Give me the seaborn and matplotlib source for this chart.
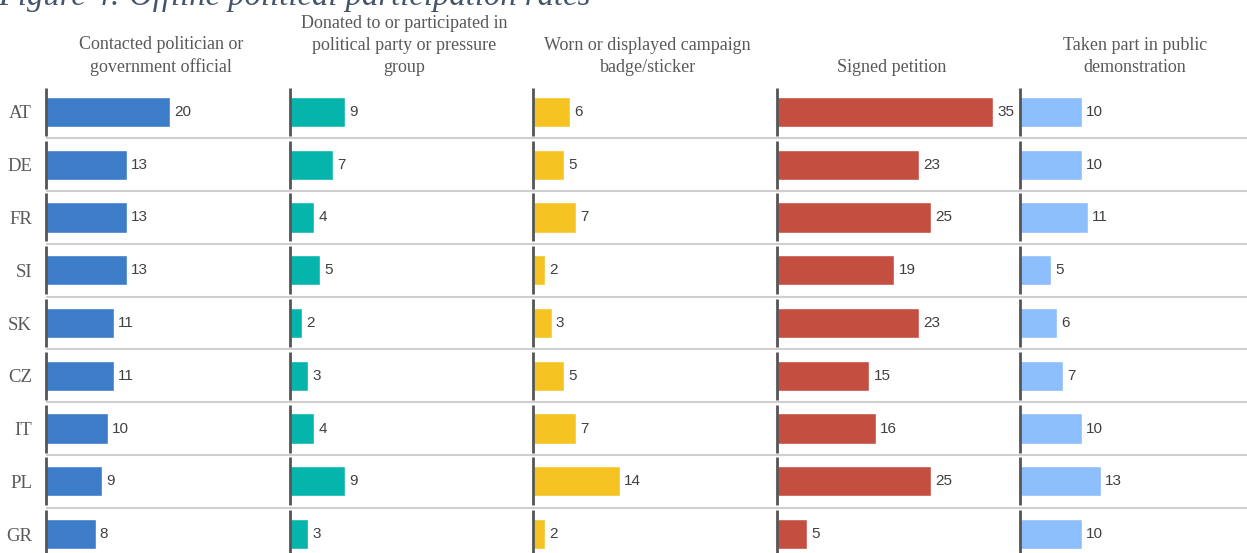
import matplotlib
matplotlib.use("Agg")
import matplotlib.pyplot as plt
import seaborn as sns
import pandas as pd

countries = ["AT", "DE", "FR", "SI", "SK", "CZ", "IT", "PL", "GR"]

activities = [
    "Contacted politician or\ngovernment official",
    "Donated to or participated in\npolitical party or pressure\ngroup",
    "Worn or displayed campaign\nbadge/sticker",
    "Signed petition",
    "Taken part in public\ndemonstration",
]

contacted = [20, 13, 13, 13, 11, 11, 10, 9, 8]
donated = [9, 7, 4, 5, 2, 3, 4, 9, 3]
badge = [6, 5, 7, 2, 3, 5, 7, 14, 2]
petition = [35, 23, 25, 19, 23, 15, 16, 25, 5]
demonstration = [10, 10, 11, 5, 6, 7, 10, 13, 10]

series = [contacted, donated, badge, petition, demonstration]
colors = ["#3D7CC9", "#05B5AB", "#F5C423", "#C44F41", "#8CBFFB"]

sns.set_theme(style="white")
plt.rcParams["font.family"] = ["Liberation Sans", "DejaVu Sans"]

W, H = 1247, 553
fig = plt.figure(figsize=(W / 100, H / 100), dpi=100)

# panel geometry in pixels
left0 = 46.0
panel_w = 243.5
top_px = 85.6
bottom_px = 560.4
xmax = 39.3

serif = ["Liberation Serif", "DejaVu Serif"]
head_color = "#595959"
axis_color = "#555555"
sep_color = "#cfcfcf"

for k, (name, vals, col) in enumerate(zip(activities, series, colors)):
    x0 = left0 + k * panel_w
    ax = fig.add_axes([x0 / W, 1 - bottom_px / H, panel_w / W, (bottom_px - top_px) / H])
    df = pd.DataFrame({"country": countries, "value": vals})
    sns.barplot(data=df, x="value", y="country", orient="h", color=col,
                width=0.57, saturation=1, ax=ax)
    ax.set_xlim(0, xmax)
    ax.set_ylim(len(countries) - 0.5, -0.5)
    for s in ax.spines.values():
        s.set_visible(False)
    ax.set_xlabel("")
    ax.set_ylabel("")
    ax.set_xticks([])
    ax.tick_params(axis="y", length=0)
    if k == 0:
        ax.set_yticks(range(len(countries)))
        ax.set_yticklabels(countries, family=serif, fontsize=13.5, color=head_color)
        ax.tick_params(axis="y", pad=10)
    else:
        ax.set_yticks([])

    # row separators
    for i in range(len(countries) - 1):
        ax.axhline(i + 0.5, color=sep_color, lw=1.5, zorder=1)
    # left axis line, broken per row
    for i in range(len(countries)):
        ax.plot([0, 0], [i - 0.455, i + 0.455], color=axis_color, lw=2.0,
                solid_capstyle="butt", zorder=3, clip_on=False)

    ax.bar_label(ax.containers[0], labels=[str(v) for v in vals], padding=3,
                 fontsize=11, color="#404040")

    # column header
    fig.text((x0 + panel_w / 2 - 7) / W, 1 - 72.5 / H, name, ha="center",
             va="baseline", family=serif, fontsize=13, color=head_color,
             linespacing=1.42)

fig.text(-2 / W, 1 - 5 / H, "Figure 4: Offline political participation rates",
         ha="left", va="baseline", family=serif, style="italic",
         fontsize=23.5, color="#44546A")

fig.savefig("out.png", dpi=100)
